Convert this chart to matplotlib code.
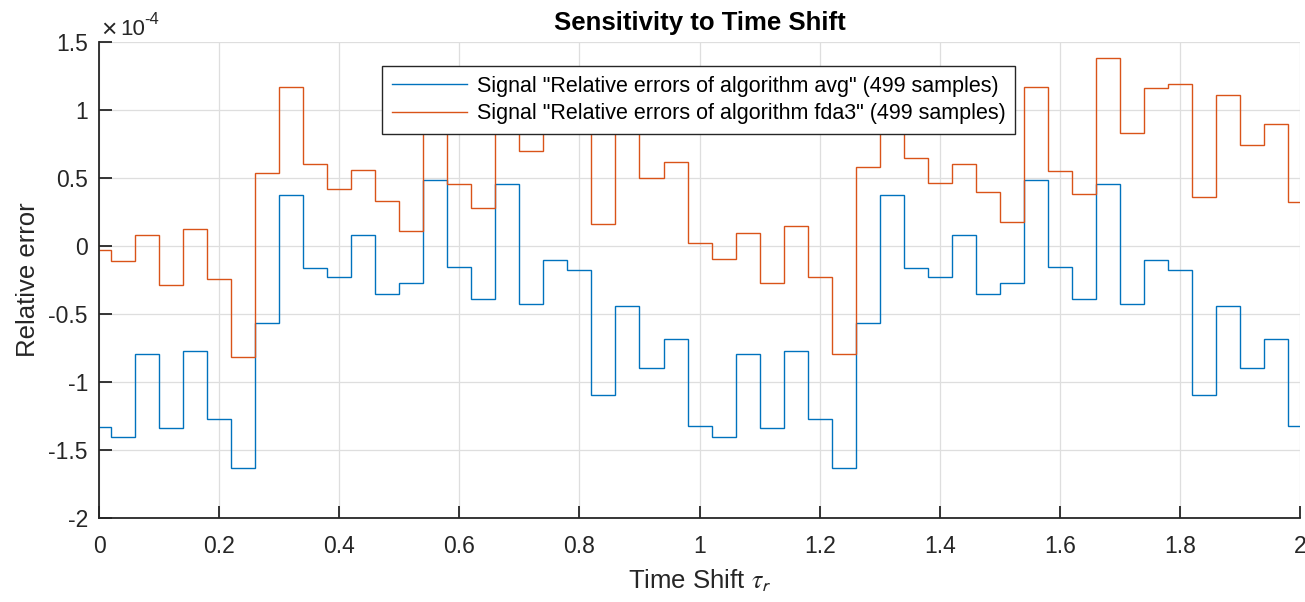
import numpy as np
import matplotlib
matplotlib.use("Agg")
import matplotlib.pyplot as plt
from matplotlib.ticker import FuncFormatter, MultipleLocator
from matplotlib.transforms import offset_copy

plt.rcParams['font.family'] = ['Liberation Sans', 'DejaVu Sans']
plt.rcParams['mathtext.fontset'] = 'stix'

# sample grid of the piecewise-constant signals (s)
t_edges = np.concatenate([[0.0], np.arange(0.02, 1.99, 0.04), [2.0]])

scale = 1e-4
# relative errors, in units of 1e-4
avg_err = [-1.328, -1.407, -0.794, -1.338, -0.772, -1.270, -1.632, -0.569, 0.373, -0.159,
           -0.228, 0.083, -0.355, -0.275, 0.483, -0.152, -0.390, 0.453, -0.429, -0.105,
           -0.174, -1.098, -0.441, -0.895, -0.681, -1.326, -1.404, -0.794, -1.338, -0.772,
           -1.270, -1.632, -0.569, 0.373, -0.162, -0.228, 0.083, -0.355, -0.275, 0.483,
           -0.152, -0.390, 0.453, -0.429, -0.105, -0.174, -1.098, -0.441, -0.895, -0.681,
           -1.326]
fda3_err = [-0.029, -0.110, 0.078, -0.287, 0.127, -0.245, -0.819, 0.539, 1.167, 0.603,
            0.422, 0.556, 0.328, 0.108, 1.080, 0.453, 0.282, 1.270, 0.701, 1.000,
            1.020, 0.164, 0.880, 0.500, 0.620, 0.020, -0.096, 0.098, -0.270, 0.147,
            -0.228, -0.797, 0.581, 1.210, 0.647, 0.466, 0.605, 0.397, 0.176, 1.172,
            0.551, 0.382, 1.382, 0.833, 1.162, 1.191, 0.358, 1.108, 0.743, 0.897,
            0.324]

labels = ['Signal "Relative errors of algorithm avg" (499 samples)',
          'Signal "Relative errors of algorithm fda3" (499 samples)']
colors = ['#0072BD', '#D95319']

fig = plt.figure(figsize=(13.05, 6.02), dpi=100)
ax = fig.add_axes([0.0759, 0.1395, 0.9203, 0.7907])

for vals, lab, c in zip([avg_err, fda3_err], labels, colors):
    ax.stairs(np.array(vals) * scale, t_edges, color=c, lw=1.0, label=lab, baseline=None)

ax.set_xlim(0, 2)
ax.set_ylim(-2e-4, 1.5e-4)
ax.xaxis.set_major_locator(MultipleLocator(0.2))
ax.yaxis.set_major_locator(MultipleLocator(0.5e-4))
ax.xaxis.set_major_formatter(FuncFormatter(lambda v, p: f'{v:g}'))
ax.yaxis.set_major_formatter(FuncFormatter(lambda v, p: f'{v / scale:g}'))

ax.grid(True, color='#dedede', lw=0.9)
ax.set_axisbelow(True)
for s in ['top', 'right']:
    ax.spines[s].set_visible(False)
for s in ['left', 'bottom']:
    ax.spines[s].set_color('#262626')
    ax.spines[s].set_linewidth(1.3)
ax.tick_params(direction='in', length=9, width=1.3, colors='#262626',
               labelsize=16.5, pad=8)
ax.tick_params(axis='x', pad=12)

ax.set_title('Sensitivity to Time Shift', fontsize=18.5, fontweight='bold', pad=9)
ax.set_xlabel(r'Time Shift $\tau_{\mathsf{r}}$', fontsize=18.5, color='#262626', labelpad=7)
ax.set_ylabel('Relative error', fontsize=18.5, color='#262626', labelpad=6)

# exponent label in the top-left corner, MATLAB style
corner = ax.transAxes
ax.text(0, 1, '\u00d7', transform=offset_copy(corner, fig=fig, x=2, y=5, units='dots'),
        fontsize=19, color='#262626', ha='left', va='baseline')
ax.text(0, 1, '10', transform=offset_copy(corner, fig=fig, x=21, y=7, units='dots'),
        fontsize=16, color='#262626', ha='left', va='baseline')
ax.text(0, 1, '-4', transform=offset_copy(corner, fig=fig, x=45, y=18, units='dots'),
        fontsize=12, color='#262626', ha='left', va='baseline')

leg = ax.legend(loc='upper left', bbox_to_anchor=(0.2356, 0.9496), borderaxespad=0,
                fontsize=15.5, fancybox=False, framealpha=1, edgecolor='#262626',
                handlelength=3.5, handletextpad=0.45, borderpad=0.45, labelspacing=0.3)
leg.get_frame().set_linewidth(1.0)

fig.savefig('out.png', dpi=100)
